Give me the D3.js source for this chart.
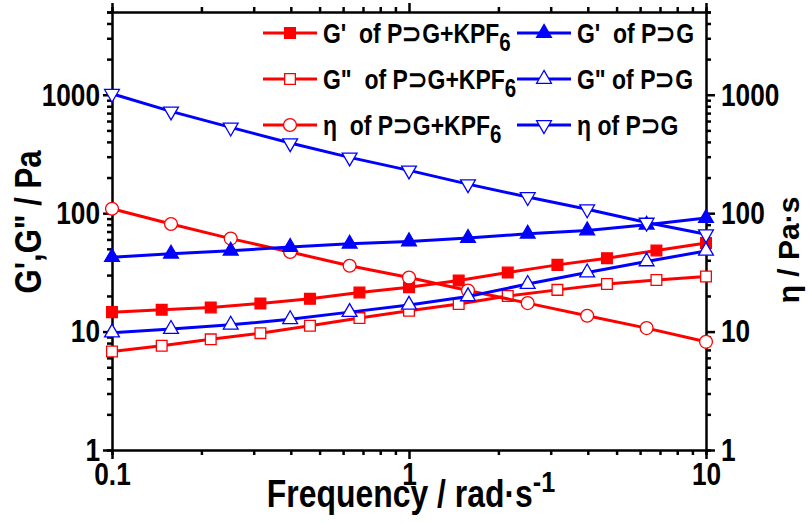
<!DOCTYPE html>
<html>
<head>
<meta charset="utf-8">
<script src="https://cdn.jsdelivr.net/npm/d3@7"></script>
<style>
body { margin: 0; background: #fff; }
text { font-family: "Liberation Sans", Arial, sans-serif; font-weight: bold; fill: #000; }
</style>
</head>
<body>
<svg id="chart" width="811" height="524"></svg>
<script>
// frequencies (rad/s) - the KPF6 moduli were measured at 6 pts/decade, the rest at 5
const freq5 = [0.1, 0.158, 0.251, 0.398, 0.631, 1, 1.58, 2.51, 3.98, 6.31, 10];
const freq6 = [0.1, 0.147, 0.215, 0.316, 0.464, 0.681, 1, 1.47, 2.15, 3.16, 4.64, 6.81, 10];

// P⊃G + KPF6
const gpKPF  = [14.6, 15.3, 16.0, 17.3, 18.9, 21.4, 23.7, 27.0, 31.5, 36.6, 41.7, 48.4, 55.9];
const gppKPF = [6.8, 7.6, 8.6, 9.7, 11.2, 13.0, 15.0, 17.1, 20.0, 22.5, 25.2, 27.3, 29.2];
const etaKPF = [109, 81, 61, 47, 36, 28.6, 22.2, 17.4, 13.6, 10.7, 8.2];

// P⊃G
const gpPG  = [42.5, 45.4, 48.1, 51.7, 55.1, 57.7, 61.7, 67, 71.4, 79.8, 91];
const gppPG = [9.8, 10.5, 11.4, 12.7, 14.6, 16.8, 19.8, 25.2, 31.5, 39.1, 48];
const etaPG = [1020, 724, 530, 391, 296, 230, 176, 137, 108, 83.4, 66.5];

const xTicks = [0.1, 1, 10];
const xTickLabels = ["0.1", "1", "10"];
const yTicks = [1, 10, 100, 1000];
const yTickLabels = ["1", "10", "100", "1000"];

const RED = "#ff0000", BLUE = "#0000ff";

const series = [
  {name: "G'  of P⊃G+KPF", sub: "6", xs: freq6, ys: gpKPF,  color: RED,  shape: "square",   filled: true,  col: 0, row: 0},
  {name: "G\"  of P⊃G+KPF", sub: "6", xs: freq6, ys: gppKPF, color: RED,  shape: "square",   filled: false, col: 0, row: 1},
  {name: "η  of P⊃G+KPF",  sub: "6", xs: freq5, ys: etaKPF, color: RED,  shape: "circle",   filled: false, col: 0, row: 2},
  {name: "G'  of P⊃G",     sub: "",  xs: freq5, ys: gpPG,   color: BLUE, shape: "triangle", filled: true,  col: 1, row: 0},
  {name: "G\" of P⊃G",     sub: "",  xs: freq5, ys: gppPG,  color: BLUE, shape: "triangle", filled: false, col: 1, row: 1},
  {name: "η of P⊃G",       sub: "",  xs: freq5, ys: etaPG,  color: BLUE, shape: "down",     filled: false, col: 1, row: 2}
];

const width = 811, height = 524;
const margin = {top: 12, right: 105, bottom: 74, left: 112};
const NARROW = 0.82; // the original font is a narrow Arial, squeeze Liberation Sans

const svg = d3.select("#chart");

const x = d3.scaleLog().domain([0.1, 10]).range([margin.left, width - margin.right]);
const y = d3.scaleLog().domain([1, 5000]).range([height - margin.bottom, margin.top]);

const xMinor = x.ticks().filter(d => !xTicks.includes(d));
const yMinor = y.ticks().filter(d => !yTicks.includes(d));

// squeeze text horizontally, keeping its anchor point
const squeeze = (sel, k) => sel.each(function () {
  const t = d3.select(this);
  const x0 = +t.attr("x") || 0;
  t.attr("x", x0 / k).attr("transform", `scale(${k},1)`);
});

const axisStyle = g => {
  g.selectAll("path, line").attr("stroke", "#000").attr("stroke-width", 2.5);
  g.selectAll("text").attr("font-size", 32).attr("fill", "#000");
};

// axes: major + minor ticks, all outward
function drawAxis(make, scale, major, labels, minor, transform, pad, showLabels) {
  const g = svg.append("g").attr("transform", transform);
  g.call(make(scale).tickValues(minor).tickSize(5).tickFormat(""));
  const m = svg.append("g").attr("transform", transform);
  m.call(make(scale).tickValues(major).tickSize(9).tickSizeOuter(0).tickPadding(pad)
    .tickFormat((d, i) => showLabels ? labels[i] : ""));
  m.select(".domain").remove();
  g.call(axisStyle);
  m.call(axisStyle);
  m.selectAll("text").call(squeeze, NARROW);
  return m;
}

drawAxis(d3.axisBottom, x, xTicks, xTickLabels, xMinor, `translate(0,${height - margin.bottom})`, 3, true);
drawAxis(d3.axisTop, x, xTicks, xTickLabels, xMinor, `translate(0,${margin.top})`, 2, false);
drawAxis(d3.axisLeft, y, yTicks, yTickLabels, yMinor, `translate(${margin.left},0)`, 3, true);
drawAxis(d3.axisRight, y, yTicks, yTickLabels, yMinor, `translate(${width - margin.right},0)`, 6, true);

// symbol helpers
const symType = {square: d3.symbolSquare, circle: d3.symbolCircle, triangle: d3.symbolTriangle, down: d3.symbolTriangle};
const symSize = {square: 115, circle: 130, triangle: 95, down: 95};
const symbolPath = s => d3.symbol().type(symType[s.shape]).size(symSize[s.shape])();
const symRot = s => s.shape === "down" ? " rotate(180)" : "";

const line = d3.line().x(d => x(d[0])).y(d => y(d[1]));

const plot = svg.append("g");
series.forEach(s => {
  const pts = s.xs.map((f, i) => [f, s.ys[i]]);
  plot.append("path")
    .datum(pts)
    .attr("d", line)
    .attr("fill", "none")
    .attr("stroke", s.color)
    .attr("stroke-width", 3);
  plot.append("g").selectAll("path")
    .data(pts)
    .join("path")
      .attr("d", symbolPath(s))
      .attr("transform", d => `translate(${x(d[0])},${y(d[1])})${symRot(s)}`)
      .attr("fill", s.filled ? s.color : "#fff")
      .attr("stroke", s.color)
      .attr("stroke-width", 1.3);
});

// legend
const legCols = [263, 517];
const legRows = [33, 79, 125];
const legend = svg.append("g");
series.forEach(s => {
  const lx = legCols[s.col], ly = legRows[s.row];
  const g = legend.append("g").attr("transform", `translate(${lx},${ly})`);
  g.append("line").attr("x1", 0).attr("x2", 54).attr("y1", 0).attr("y2", 0)
    .attr("stroke", s.color).attr("stroke-width", 3);
  g.append("path").attr("d", symbolPath(s))
    .attr("transform", `translate(27,0)${symRot(s)}`)
    .attr("fill", s.filled ? s.color : "#fff")
    .attr("stroke", s.color).attr("stroke-width", 1.3);
  const t = g.append("text").attr("x", 60).attr("y", 10).attr("font-size", 28)
    .style("white-space", "pre");
  t.append("tspan").text(s.name);
  if (s.sub) t.append("tspan").attr("dy", 8).attr("font-size", 25).text(s.sub);
  t.call(squeeze, NARROW);
});

// axis titles
const xt = svg.append("text")
  .attr("x", (x.range()[0] + x.range()[1]) / 2 + 2)
  .attr("y", 507)
  .attr("text-anchor", "middle")
  .attr("font-size", 38);
xt.append("tspan").text("Frequency / rad·s");
xt.append("tspan").attr("dy", -15).attr("font-size", 30).text("-1");
xt.call(squeeze, 0.84);

svg.append("text")
  .attr("transform", "translate(41,222) rotate(-90) scale(0.84,1)")
  .attr("text-anchor", "middle")
  .attr("font-size", 37)
  .text("G',G\" / Pa");

svg.append("text")
  .attr("transform", "translate(799,250) rotate(-90)")
  .attr("text-anchor", "middle")
  .attr("font-size", 30)
  .text("η / Pa·s");
</script>
</body>
</html>
